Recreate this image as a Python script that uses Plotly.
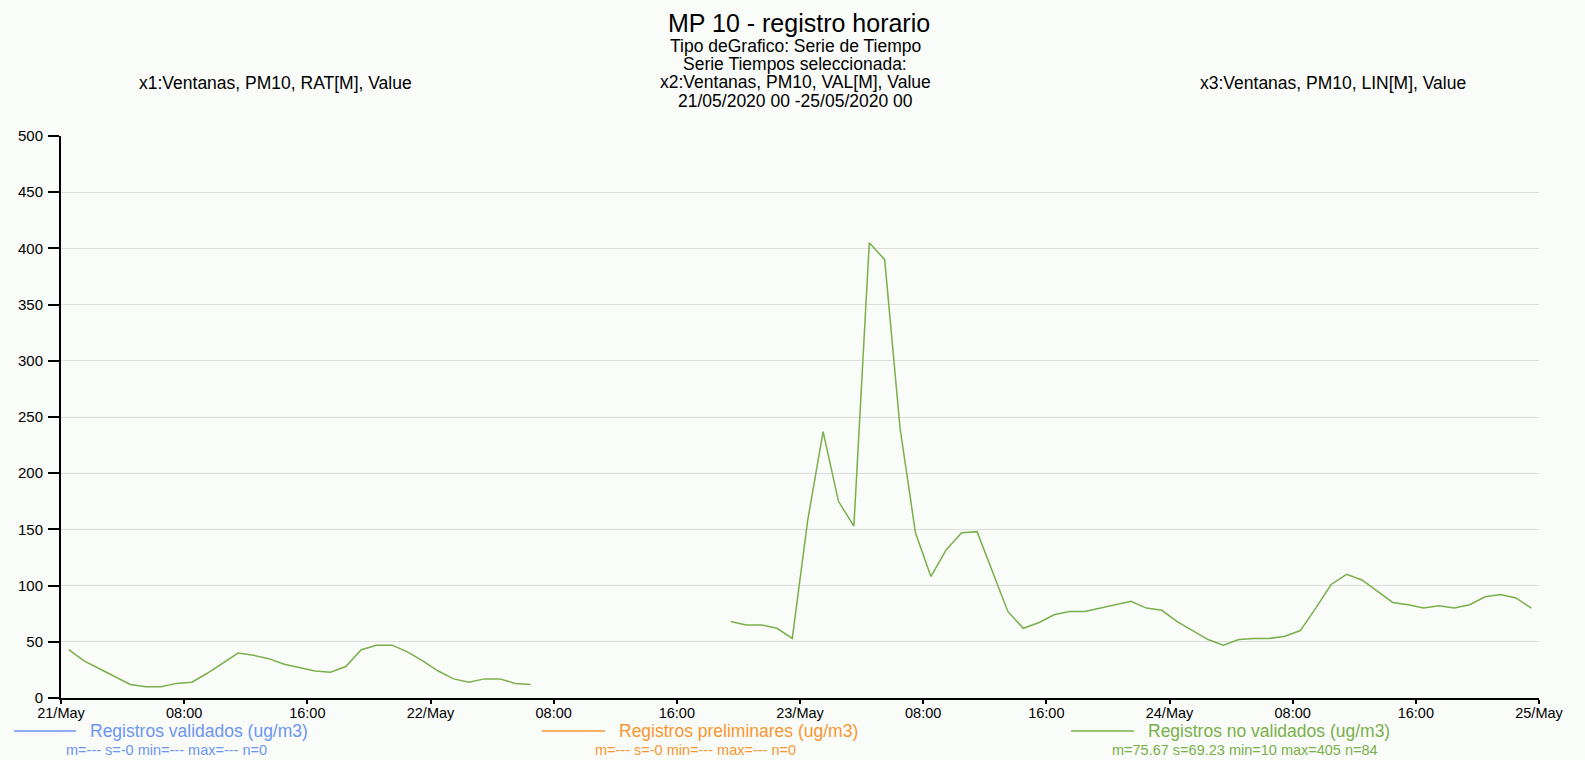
import pandas as pd
import plotly.graph_objects as go

# ---------------- data ----------------
start_time = "2020-05-21 00:30"
n_hours = 96
no_validados = [
    43, 33, 26, 19, 12, 10, 10, 13, 14, 22, 31, 40, 38, 35, 30, 27,
    24, 23, 28, 43, 47, 47, 41, 33, 24, 17, 14, 17, 17, 13, 12,
    None, None, None, None, None, None, None, None, None, None, None, None,
    68, 65, 65, 62, 53, 158, 237, 175, 153, 405, 390, 240, 147, 108, 132,
    147, 148, 113, 77, 62, 67, 74, 77, 77, 80, 83, 86, 80, 78, 68, 60, 52,
    47, 52, 53, 53, 55, 60, 80, 101, 110, 105, 95, 85, 83, 80, 82, 80, 83,
    90, 92, 89, 80,
]
tick_times = pd.date_range("2020-05-21 00:00", "2020-05-25 00:00", freq="8h")
tick_labels = ["21/May", "08:00", "16:00", "22/May", "08:00", "16:00", "23/May",
               "08:00", "16:00", "24/May", "08:00", "16:00", "25/May"]
y_ticks = [0, 50, 100, 150, 200, 250, 300, 350, 400, 450, 500]

legend_names = ["Registros validados (ug/m3)", "Registros preliminares (ug/m3)",
                "Registros no validados (ug/m3)"]
legend_stats = ["m=--- s=-0 min=--- max=--- n=0", "m=--- s=-0 min=--- max=--- n=0",
                "m=75.67 s=69.23 min=10 max=405 n=84"]
legend_colors = ["#6C95F0", "#F7962F", "#79B04A"]

title = "MP 10 - registro horario"
sub_lines = ["Tipo deGrafico: Serie de Tiempo", "Serie Tiempos seleccionada:",
             "x2:Ventanas, PM10, VAL[M], Value", "21/05/2020 00 -25/05/2020 00"]
x1_label = "x1:Ventanas, PM10, RAT[M], Value"
x3_label = "x3:Ventanas, PM10, LIN[M], Value"

# ---------------- figure ----------------
W, H = 1585, 760
L, R, T, B = 61, 46, 136, 62
PW, PH = W - L - R, H - T - B
FONT = "Liberation Sans, Arial, sans-serif"
BG = "#FAFCFA"

def px(x):
    return (x - L) / PW

def py(y):
    return (H - B - y) / PH

times = pd.date_range(start_time, periods=n_hours, freq="h")

fig = go.Figure()
fig.add_trace(go.Scatter(x=times, y=no_validados, mode="lines",
                         line=dict(color=legend_colors[2], width=1.5),
                         connectgaps=False, showlegend=False,
                         name=legend_names[2]))

fig.update_layout(
    width=W, height=H,
    margin=dict(l=L, r=R, t=T, b=B, autoexpand=False),
    paper_bgcolor=BG, plot_bgcolor=BG,
    font=dict(family=FONT, color="#000000", size=15),
    showlegend=False,
)
fig.update_xaxes(
    range=[tick_times[0], tick_times[-1]],
    tickvals=tick_times, ticktext=tick_labels,
    showgrid=False, zeroline=False,
    showline=True, linecolor="#000000", linewidth=2,
    ticks="outside", ticklen=4, tickwidth=1.5, tickcolor="#000000",
    ticklabelstandoff=-3,
    tickfont=dict(size=14.5, color="#000000"),
)
fig.update_yaxes(
    range=[0, 500], tickvals=y_ticks,
    showgrid=True, gridcolor="#DEDEDE", gridwidth=1,
    zeroline=False,
    showline=True, linecolor="#000000", linewidth=2,
    ticks="outside", ticklen=11, tickwidth=1.5, tickcolor="#000000",
    ticklabelstandoff=2,
    tickfont=dict(size=15, color="#000000"),
)

ann = []
ann.append(dict(text=title, x=px(799), y=py(23), xref="paper", yref="paper",
                showarrow=False, xanchor="center", yanchor="middle",
                font=dict(size=25, family=FONT, color="#000000")))
for line, yy in zip(sub_lines, [46, 64, 82, 101]):
    ann.append(dict(text=line, x=px(795), y=py(yy), xref="paper", yref="paper",
                    showarrow=False, xanchor="center", yanchor="middle",
                    font=dict(size=17.5, family=FONT, color="#000000")))
ann.append(dict(text=x1_label, x=px(275), y=py(83), xref="paper", yref="paper",
                showarrow=False, xanchor="center", yanchor="middle",
                font=dict(size=17.5, family=FONT, color="#000000")))
ann.append(dict(text=x3_label, x=px(1333), y=py(83), xref="paper", yref="paper",
                showarrow=False, xanchor="center", yanchor="middle",
                font=dict(size=17.5, family=FONT, color="#000000")))

shapes = []
leg_line_x = [(14, 76), (542, 605), (1071, 1134)]
leg_text_x = [88, 617, 1146]
leg_stat_x = [166, 695, 1245]
for i in range(3):
    x0, x1 = leg_line_x[i]
    shapes.append(dict(type="line", xref="paper", yref="paper",
                       x0=px(x0), x1=px(x1), y0=py(731), y1=py(731),
                       line=dict(color=legend_colors[i], width=1.5)))
    ann.append(dict(text=legend_names[i], x=px(leg_text_x[i]), y=py(731),
                    xref="paper", yref="paper", showarrow=False,
                    xanchor="left", yanchor="middle",
                    font=dict(size=17.5, family=FONT, color=legend_colors[i])))
    ann.append(dict(text=legend_stats[i], x=px(leg_stat_x[i]), y=py(750),
                    xref="paper", yref="paper", showarrow=False,
                    xanchor="center", yanchor="middle",
                    font=dict(size=14.5, family=FONT, color=legend_colors[i])))

fig.update_layout(annotations=ann, shapes=shapes)
fig.write_html(
    "out.html",
    config={"displayModeBar": False},
    post_script="document.body.style.margin='0';document.body.style.overflow='hidden';",
)
